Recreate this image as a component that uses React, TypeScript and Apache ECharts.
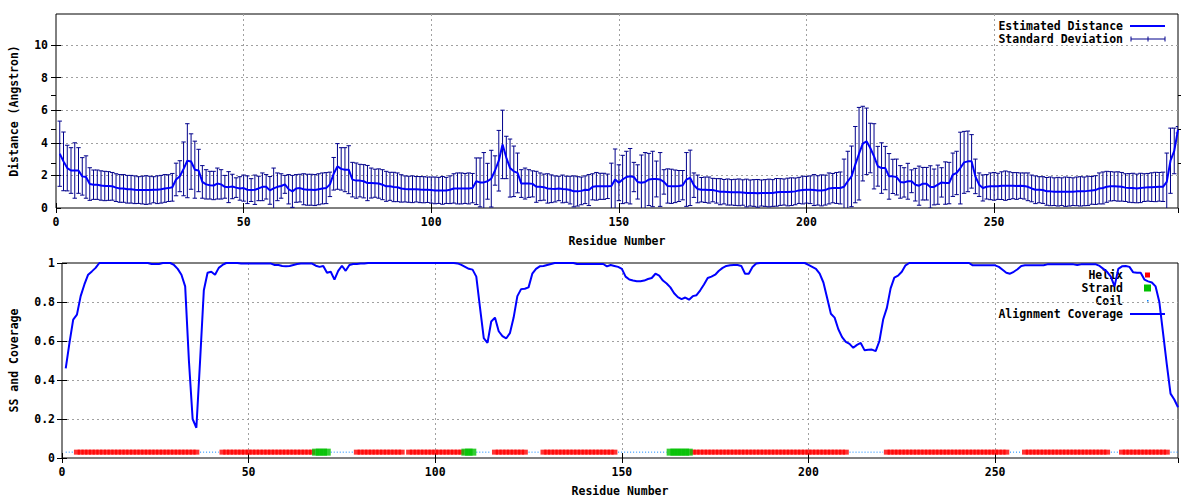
import React, { useEffect, useRef } from "react";
import * as echarts from "echarts";

// Estimated distance per residue (Angstrom), residues 1..299
const distance = [
  3.33, 2.86, 2.45, 2.3, 2.3, 2.3, 1.94, 1.9, 1.47, 1.43,
  1.43, 1.38, 1.35, 1.35, 1.33, 1.25, 1.2, 1.2, 1.15, 1.15,
  1.12, 1.1, 1.1, 1.1, 1.1, 1.12, 1.12, 1.15, 1.2, 1.22,
  1.27, 1.75, 1.95, 2.4, 2.9, 2.85, 2.35, 2.3, 1.6, 1.45,
  1.4, 1.38, 1.5, 1.45, 1.3, 1.28, 1.32, 1.25, 1.2, 1.22,
  1.12, 1.1, 1.12, 1.2, 1.3, 1.3, 1.08, 1.2, 1.3, 1.35,
  1.45, 1.15, 1.02, 1.2, 1.22, 1.15, 1.12, 1.12, 1.1, 1.15,
  1.2, 1.22, 1.45, 2.1, 2.55, 2.4, 2.35, 2.35, 1.74, 1.68,
  1.68, 1.64, 1.53, 1.53, 1.52, 1.5, 1.43, 1.33, 1.33, 1.29,
  1.27, 1.2, 1.17, 1.15, 1.15, 1.15, 1.13, 1.12, 1.12, 1.1,
  1.08, 1.08, 1.08, 1.08, 1.12, 1.2, 1.2, 1.2, 1.2, 1.2,
  1.22, 1.64, 1.57, 1.57, 1.64, 1.8, 2.3, 2.9, 3.9, 3.1,
  2.45, 2.25, 2.15, 1.5, 1.5, 1.5, 1.48, 1.3, 1.3, 1.28,
  1.2, 1.18, 1.17, 1.2, 1.17, 1.15, 1.1, 1.02, 1.02, 1.05,
  1.12, 1.1, 1.3, 1.33, 1.33, 1.33, 1.33, 1.35, 1.75, 1.55,
  1.75, 1.9, 1.95, 1.9, 1.6, 1.55, 1.6, 1.75, 1.78, 1.78,
  1.75, 1.6, 1.35, 1.33, 1.33, 1.35, 1.4, 1.75, 1.85, 1.4,
  1.17, 1.12, 1.12, 1.1, 1.1, 1.05, 1.0, 1.0, 0.98, 0.96,
  0.96, 0.96, 0.95, 0.92, 0.92, 0.92, 0.9, 0.92, 0.92, 0.92,
  0.92, 0.96, 0.98, 0.98, 0.98, 1.0, 1.02, 1.08, 1.1, 1.12,
  1.12, 1.1, 1.08, 1.08, 1.1, 1.2, 1.22, 1.23, 1.23, 1.3,
  1.64, 1.94, 2.66, 3.33, 3.95, 4.09, 3.68, 3.17, 2.56, 2.45,
  2.45, 1.94, 1.94, 1.9, 1.6, 1.57, 1.64, 1.64, 1.43, 1.37,
  1.49, 1.49, 1.29, 1.29, 1.43, 1.57, 1.53, 1.53, 2.04, 2.15,
  2.45, 2.8, 2.86, 2.86, 1.94, 1.43, 1.23, 1.3, 1.33, 1.33,
  1.33, 1.37, 1.37, 1.37, 1.37, 1.35, 1.37, 1.35, 1.3, 1.2,
  1.12, 1.12, 1.1, 1.02, 1.02, 1.0, 1.0, 1.0, 1.0, 1.0,
  1.0, 1.02, 1.02, 1.02, 1.05, 1.08, 1.1, 1.2, 1.23, 1.3,
  1.33, 1.33, 1.32, 1.3, 1.25, 1.23, 1.23, 1.2, 1.23, 1.25,
  1.27, 1.28, 1.29, 1.3, 1.3, 1.6, 2.9, 3.5, 4.8,
];

// Standard deviation per residue
const stdDev = [
  2.0, 1.8, 1.4, 1.4, 1.7, 1.4, 1.15, 1.3, 1.0, 0.9,
  0.9, 0.9, 0.9, 0.88, 0.85, 0.85, 0.85, 0.85, 0.85, 0.85,
  0.85, 0.82, 0.85, 0.88, 0.85, 0.8, 0.85, 0.85, 0.85, 0.82,
  0.85, 1.0, 0.95, 1.65, 2.27, 1.7, 1.75, 1.3, 1.0, 0.9,
  0.85, 0.87, 0.95, 0.9, 0.7, 0.95, 0.75, 0.6, 0.72, 0.8,
  0.85, 0.7, 0.9, 0.75, 0.85, 0.75, 0.85, 1.25, 0.85, 0.75,
  0.55, 0.9, 0.98, 0.85, 0.85, 0.95, 0.95, 0.95, 0.95, 0.95,
  0.95, 0.95, 0.75, 1.0, 1.4, 1.3, 1.35, 1.47, 1.06, 1.08,
  1.0, 1.02, 1.08, 0.92, 0.86, 0.9, 0.92, 0.92, 0.86, 0.9,
  0.88, 0.84, 0.8, 0.8, 0.82, 0.78, 0.8, 0.8, 0.78, 0.8,
  0.82, 0.8, 0.85, 0.8, 0.85, 0.9, 0.95, 0.95, 0.92, 0.95,
  0.9, 1.43, 1.5, 1.83, 1.1, 1.74, 0.9, 1.86, 2.1, 1.3,
  1.78, 1.55, 1.22, 0.85, 0.95, 0.85, 0.8, 0.95, 0.85, 0.8,
  0.9, 0.85, 0.8, 0.75, 0.85, 0.8, 0.85, 0.95, 0.9, 0.85,
  0.85, 0.95, 0.8, 0.85, 0.8, 0.8, 0.75, 1.4, 1.87, 1.1,
  1.48, 1.58, 1.7, 0.9, 1.05, 1.7, 1.8, 1.6, 1.7, 1.1,
  1.65, 0.75, 1.05, 1.05, 1.0, 0.95, 0.9, 1.65, 1.7, 0.75,
  0.85, 0.75, 0.78, 0.8, 0.72, 0.75, 0.8, 0.75, 0.8, 0.78,
  0.8, 0.82, 0.78, 0.85, 0.8, 0.82, 0.85, 0.8, 0.82, 0.85,
  0.82, 0.85, 0.82, 0.8, 0.85, 0.85, 0.82, 0.8, 0.85, 0.82,
  0.85, 0.95, 0.9, 0.95, 0.92, 0.95, 0.9, 0.95, 0.98, 1.7,
  1.84, 1.86, 2.34, 2.84, 2.29, 2.04, 1.52, 2.0, 1.22, 1.55,
  1.33, 1.4, 1.05, 1.1, 1.0, 0.9, 1.1, 0.7, 1.0, 1.2,
  1.0, 1.0, 1.3, 1.1, 1.2, 0.9, 1.3, 1.27, 1.33, 1.33,
  2.2, 1.9, 1.86, 1.64, 1.06, 0.72, 0.8, 0.75, 0.82, 0.85,
  0.8, 0.85, 0.9, 0.85, 0.8, 0.82, 0.78, 0.8, 0.85, 0.82,
  0.85, 0.8, 0.82, 0.85, 0.88, 0.85, 0.88, 0.85, 0.9, 0.88,
  0.85, 0.88, 0.9, 0.88, 0.9, 0.85, 0.88, 0.95, 0.98, 0.95,
  0.9, 0.88, 0.9, 0.88, 0.85, 0.88, 0.9, 0.88, 0.9, 0.85,
  0.85, 0.88, 0.9, 0.88, 0.9, 1.77, 2.0, 1.4, 0.2,
];

// Alignment coverage per residue
const coverage = [
  0.46, 0.59, 0.71, 0.735, 0.83, 0.89, 0.94, 0.957, 0.975, 1.0,
  1.0, 1.0, 1.0, 1.0, 1.0, 1.0, 1.0, 1.0, 1.0, 1.0,
  1.0, 1.0, 1.0, 0.995, 0.995, 0.995, 1.0, 1.0, 1.0, 0.99,
  0.97, 0.94, 0.88, 0.5, 0.2, 0.155, 0.5, 0.86, 0.95, 0.955,
  0.94, 0.975, 0.99, 1.0, 1.0, 1.0, 1.0, 0.997, 0.997, 0.997,
  0.997, 0.997, 0.997, 0.997, 0.997, 0.997, 0.99, 0.99, 0.985, 0.983,
  0.985, 0.99, 0.995, 0.997, 0.997, 0.997, 0.997, 0.986, 0.98, 0.985,
  0.95, 0.955, 0.915, 0.96, 0.986, 0.96, 0.99, 0.995, 0.995, 0.997,
  0.998, 1.0, 1.0, 1.0, 1.0, 1.0, 1.0, 1.0, 1.0, 1.0,
  1.0, 1.0, 1.0, 1.0, 1.0, 1.0, 1.0, 1.0, 1.0, 1.0,
  1.0, 1.0, 1.0, 1.0, 1.0, 0.998, 0.99, 0.98, 0.97, 0.966,
  0.93, 0.77, 0.615, 0.59, 0.7, 0.72, 0.65, 0.625, 0.613, 0.64,
  0.72, 0.83, 0.866, 0.868, 0.875, 0.945, 0.97, 0.983, 0.985, 0.99,
  0.995, 1.0, 1.0, 1.0, 1.0, 1.0, 1.0, 0.995, 0.995, 0.995,
  0.995, 0.995, 0.995, 0.995, 0.995, 0.983, 0.99, 0.985, 0.98, 0.97,
  0.93, 0.915, 0.91, 0.906, 0.906, 0.91, 0.918, 0.923, 0.945, 0.935,
  0.91, 0.895, 0.875, 0.845, 0.825, 0.815, 0.823, 0.812, 0.83, 0.835,
  0.86, 0.89, 0.923, 0.93, 0.94, 0.96, 0.975, 0.985, 0.988, 0.99,
  0.99, 0.985, 0.945, 0.945, 0.98, 0.997, 1.0, 1.0, 1.0, 1.0,
  1.0, 1.0, 1.0, 1.0, 1.0, 1.0, 1.0, 1.0, 1.0, 0.99,
  0.98, 0.97, 0.945, 0.9, 0.82, 0.74, 0.72, 0.66, 0.62, 0.595,
  0.585, 0.565, 0.58, 0.59, 0.553, 0.555, 0.556, 0.548, 0.6, 0.71,
  0.77, 0.87, 0.925, 0.935, 0.955, 0.988, 1.0, 1.0, 1.0, 1.0,
  1.0, 1.0, 1.0, 1.0, 1.0, 1.0, 1.0, 1.0, 1.0, 1.0,
  1.0, 1.0, 1.0, 0.988, 0.988, 0.988, 0.988, 0.988, 0.988, 0.988,
  0.98, 0.965, 0.95, 0.945, 0.955, 0.968, 0.985, 0.988, 0.988, 0.988,
  0.988, 0.988, 0.988, 0.993, 0.993, 0.993, 0.993, 0.993, 0.993, 0.993,
  0.993, 0.99, 0.993, 0.993, 0.993, 0.993, 0.993, 0.985, 0.97, 0.955,
  0.93, 0.88, 0.97, 0.983, 0.985, 0.98, 0.952, 0.95, 0.95, 0.915,
  0.906, 0.9, 0.88, 0.8, 0.64, 0.48, 0.33, 0.3, 0.26,
];

// Secondary structure runs: [type, firstResidue, lastResidue]
const ssRuns: [string, number, number][] = [
  ["C", 1, 3], ["H", 4, 36], ["C", 37, 42], ["H", 43, 67], ["E", 68, 71],
  ["C", 72, 78], ["H", 79, 91], ["C", 92, 92], ["H", 93, 107], ["E", 108, 110],
  ["C", 111, 115], ["H", 116, 124], ["C", 125, 128], ["H", 129, 148],
  ["C", 149, 162], ["E", 163, 168], ["H", 169, 210], ["C", 211, 220],
  ["H", 221, 253], ["C", 254, 257], ["H", 258, 280], ["C", 281, 283],
  ["H", 284, 296], ["C", 297, 299],
];

const SS_LEVEL = 0.03;
const X_MAX = 299;
const DIST_MAX = 11.9;
const distTickMirror = [2, 4, 6, 8, 10, 2.76, 4.85, 6.89];
const y2Ticks = [2.76, 4.85, 6.89];

const FONT = "'DejaVu Sans Mono', monospace";
const FS = 11.5;
const GRID_COLOR = "#a0a0a0";

export default function App() {
  const ref = useRef<HTMLDivElement>(null);

  useEffect(() => {
    if (!ref.current) return;
    const chart = echarts.init(ref.current, undefined, { renderer: "svg" });

    const residues = distance.map((_, i) => i + 1);
    const lineData = residues.map((r, i) => [r, distance[i]]);
    const errData = residues.map((r, i) => [r, distance[i] - stdDev[i], distance[i] + stdDev[i]]);
    const covData = residues.map((r, i) => [r, coverage[i]]);

    const ssOf: Record<number, string> = {};
    ssRuns.forEach(([t, a, b]) => {
      for (let r = a; r <= b; r++) ssOf[r] = t;
    });
    const helixData = residues.filter((r) => ssOf[r] === "H").map((r) => [r, SS_LEVEL]);
    const strandData = residues.filter((r) => ssOf[r] === "E").map((r) => [r, SS_LEVEL]);
    const coilData = residues.map((r) => (ssOf[r] === "C" ? [r, SS_LEVEL] : [r, "-"]));

    const labelStyle = { color: "#000", fontFamily: FONT, fontWeight: "bold", fontSize: FS };

    const xMain = (gridIndex: number) => ({
      type: "value",
      gridIndex,
      position: "bottom",
      min: 0,
      max: X_MAX,
      interval: 50,
      name: "Residue Number",
      nameLocation: "middle",
      nameGap: 27,
      nameTextStyle: labelStyle,
      axisLine: { show: false },
      axisTick: { show: true, inside: true, length: 5, lineStyle: { color: "#000" } },
      axisLabel: { ...labelStyle, margin: 8, showMaxLabel: false },
      splitLine: {
        show: true,
        showMinLine: false,
        showMaxLine: false,
        lineStyle: { color: GRID_COLOR, type: [2, 3], width: 1 },
      },
    });
    const xMirror = (gridIndex: number) => ({
      type: "value",
      gridIndex,
      position: "top",
      min: 0,
      max: X_MAX,
      interval: 50,
      axisLine: { show: false },
      axisTick: { show: true, inside: true, length: 5, lineStyle: { color: "#000" } },
      axisLabel: { show: false },
      splitLine: { show: false },
    });

    const option = {
      animation: false,
      backgroundColor: "#ffffff",
      textStyle: { fontFamily: FONT },
      grid: [
        { left: 52, top: 14, width: 1126, height: 194, show: true, borderColor: "#000", borderWidth: 1, backgroundColor: "transparent" },
        { left: 58, top: 263, width: 1120, height: 195, show: true, borderColor: "#000", borderWidth: 1, backgroundColor: "transparent" },
      ],
      xAxis: [xMain(0), xMirror(0), xMain(1), xMirror(1)],
      yAxis: [
        {
          type: "value",
          gridIndex: 0,
          position: "left",
          min: 0,
          max: DIST_MAX,
          interval: 2,
          name: "Distance (Angstron)",
          nameLocation: "middle",
          nameGap: 36,
          nameRotate: 90,
          nameTextStyle: labelStyle,
          axisLine: { show: false },
          axisTick: { show: true, inside: true, length: 5, lineStyle: { color: "#000" } },
          axisLabel: { ...labelStyle, margin: 8, showMaxLabel: false },
          splitLine: {
            show: true,
            showMinLine: false,
            showMaxLine: false,
            lineStyle: { color: GRID_COLOR, type: [2, 3], width: 1 },
          },
        },
        {
          type: "value",
          gridIndex: 0,
          position: "right",
          min: 0,
          max: DIST_MAX,
          interval: 2,
          axisLine: { show: false },
          axisTick: { show: true, inside: true, length: 5, customValues: distTickMirror, lineStyle: { color: "#000" } },
          axisLabel: { show: false },
          splitLine: { show: false },
        },
        {
          type: "value",
          gridIndex: 0,
          position: "right",
          min: 0,
          max: DIST_MAX,
          interval: 2,
          axisLine: { show: false },
          axisTick: { show: true, inside: false, length: 3, customValues: y2Ticks, lineStyle: { color: "#000" } },
          axisLabel: { show: false },
          splitLine: { show: false },
        },
        {
          type: "value",
          gridIndex: 1,
          position: "left",
          min: 0,
          max: 1,
          interval: 0.2,
          name: "SS and Coverage",
          nameLocation: "middle",
          nameGap: 42,
          nameRotate: 90,
          nameTextStyle: labelStyle,
          axisLine: { show: false },
          axisTick: { show: true, inside: true, length: 5, lineStyle: { color: "#000" } },
          axisLabel: { ...labelStyle, margin: 7 },
          splitLine: {
            show: true,
            showMinLine: false,
            showMaxLine: false,
            lineStyle: { color: GRID_COLOR, type: [2, 3], width: 1 },
          },
        },
        {
          type: "value",
          gridIndex: 1,
          position: "right",
          min: 0,
          max: 1,
          interval: 0.2,
          axisLine: { show: false },
          axisTick: { show: true, inside: true, length: 5, lineStyle: { color: "#000" } },
          axisLabel: { show: false },
          splitLine: { show: false },
        },
      ],
      series: [
        {
          name: "Standard Deviation",
          type: "custom",
          xAxisIndex: 0,
          yAxisIndex: 0,
          clip: true,
          z: 2,
          data: errData,
          encode: { x: 0, y: [1, 2] },
          renderItem: (params: any, api: any) => {
            const x = api.value(0);
            const lo = api.coord([x, api.value(1)]);
            const hi = api.coord([x, api.value(2)]);
            const hw = 2.2;
            const st = { stroke: "#00008b", lineWidth: 1 };
            return {
              type: "group",
              children: [
                { type: "line", shape: { x1: lo[0], y1: lo[1], x2: hi[0], y2: hi[1] }, style: st },
                { type: "line", shape: { x1: lo[0] - hw, y1: lo[1], x2: lo[0] + hw, y2: lo[1] }, style: st },
                { type: "line", shape: { x1: hi[0] - hw, y1: hi[1], x2: hi[0] + hw, y2: hi[1] }, style: st },
              ],
            };
          },
        },
        {
          name: "Estimated Distance",
          type: "line",
          xAxisIndex: 0,
          yAxisIndex: 0,
          data: lineData,
          symbol: "none",
          z: 3,
          lineStyle: { color: "#0000ff", width: 2 },
        },
        {
          name: "Helix",
          type: "scatter",
          xAxisIndex: 2,
          yAxisIndex: 3,
          data: helixData,
          symbol: "rect",
          symbolSize: [6, 5],
          itemStyle: { color: "#ff0000", borderWidth: 0 },
          z: 2,
        },
        {
          name: "Strand",
          type: "scatter",
          xAxisIndex: 2,
          yAxisIndex: 3,
          data: strandData,
          symbol: "rect",
          symbolSize: [7.5, 7],
          itemStyle: { color: "#00c000", borderWidth: 0 },
          z: 3,
        },
        {
          name: "Coil",
          type: "line",
          xAxisIndex: 2,
          yAxisIndex: 3,
          data: coilData,
          symbol: "none",
          connectNulls: false,
          lineStyle: { color: "#0080ff", width: 1, type: [1, 2] },
          z: 2,
        },
        {
          name: "Alignment Coverage",
          type: "line",
          xAxisIndex: 2,
          yAxisIndex: 3,
          data: covData,
          symbol: "none",
          lineStyle: { color: "#0000ff", width: 2 },
          z: 4,
        },
      ],
      graphic: [
        ...[
          ["Estimated Distance", 26],
          ["Standard Deviation", 39],
          ["Helix", 275],
          ["Strand", 288],
          ["Coil", 301],
          ["Alignment Coverage", 314],
        ].map(([t, y]) => ({
          type: "text",
          z: 0,
          style: {
            text: t,
            x: 1123,
            y: y,
            font: `bold ${FS}px ${FONT}`,
            fill: "#000",
            align: "right",
            verticalAlign: "middle",
            textAlign: "right",
            textVerticalAlign: "middle",
          },
        })),
        { type: "line", z: 0, shape: { x1: 1130, y1: 26, x2: 1165, y2: 26 }, style: { stroke: "#0000ff", lineWidth: 2 } },
        { type: "line", z: 0, shape: { x1: 1131, y1: 39, x2: 1165, y2: 39 }, style: { stroke: "#00008b", lineWidth: 1 } },
        { type: "line", z: 0, shape: { x1: 1131, y1: 36.5, x2: 1131, y2: 41.5 }, style: { stroke: "#00008b", lineWidth: 1 } },
        { type: "line", z: 0, shape: { x1: 1148, y1: 36.5, x2: 1148, y2: 41.5 }, style: { stroke: "#00008b", lineWidth: 1 } },
        { type: "line", z: 0, shape: { x1: 1165, y1: 36.5, x2: 1165, y2: 41.5 }, style: { stroke: "#00008b", lineWidth: 1 } },
        { type: "rect", z: 0, shape: { x: 1145, y: 272.5, width: 5, height: 5 }, style: { fill: "#ff0000" } },
        { type: "rect", z: 0, shape: { x: 1144, y: 284.5, width: 7, height: 7 }, style: { fill: "#00c000" } },
        { type: "rect", z: 0, shape: { x: 1147, y: 300, width: 1.5, height: 1.5 }, style: { fill: "#0080ff" } },
        { type: "line", z: 0, shape: { x1: 1130, y1: 314, x2: 1165, y2: 314 }, style: { stroke: "#0000ff", lineWidth: 2 } },
      ],
    };

    chart.setOption(option as any);
    return () => chart.dispose();
  }, []);

  return (
    <div
      ref={ref}
      style={{ position: "fixed", left: 0, top: 0, width: 1200, height: 500, background: "#fff" }}
    />
  );
}
